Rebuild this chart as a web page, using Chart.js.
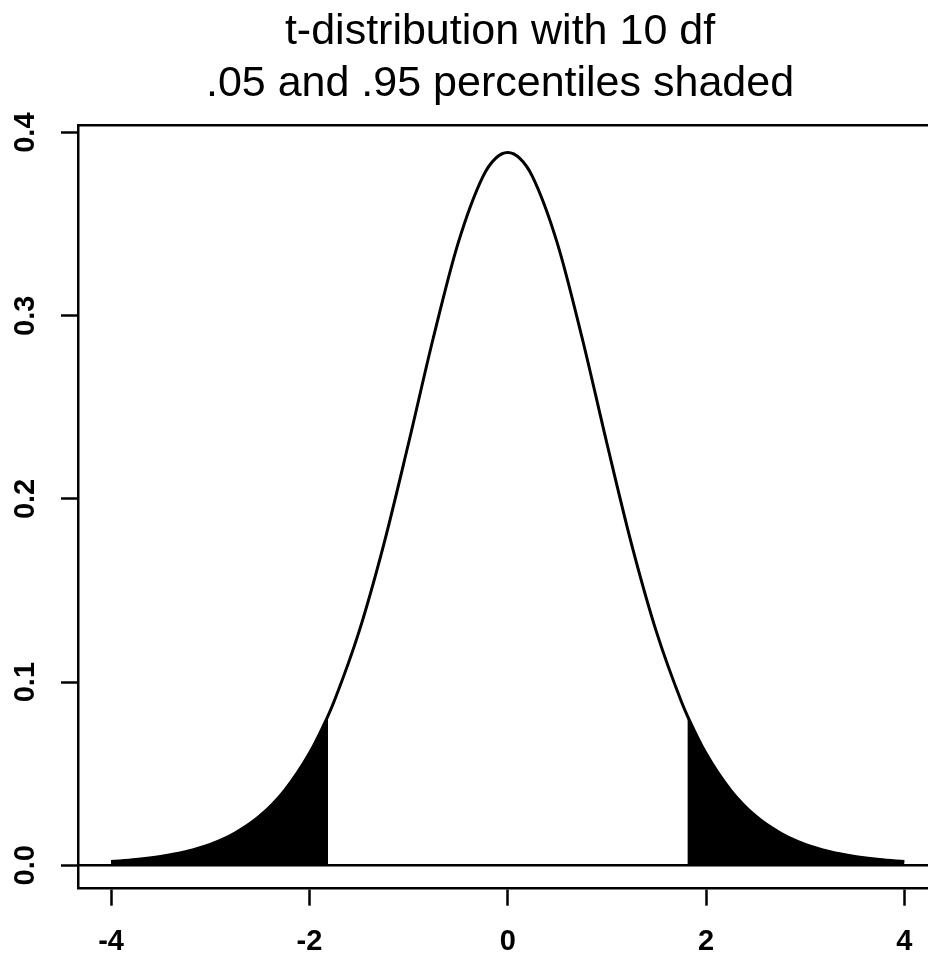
<!DOCTYPE html>
<html lang="en">
<head>
<meta charset="utf-8">
<title>t-distribution with 10 df</title>
<script src="https://cdn.jsdelivr.net/npm/chart.js@4.4.1/dist/chart.umd.min.js"></script>
<style>
  html, body { margin: 0; padding: 0; background: #fff; overflow: hidden; }
  #wrapper { width: 1000px; height: 956px; }
</style>
</head>
<body>
<div id="wrapper"><canvas id="tChart" width="1000" height="956"></canvas></div>
<script>
'use strict';

// #region ***  Data                                     ***********
const titleLines = ['t-distribution with 10 df', '.05 and .95 percentiles shaded'];
const tValues = [-4, -3.75, -3.5, -3.25, -3, -2.75, -2.5, -2.25, -2, -1.812, -1.75, -1.5, -1.25, -1, -0.75, -0.5, -0.25, -0.125,
  0, 0.125, 0.25, 0.5, 0.75, 1, 1.25, 1.5, 1.75, 1.812, 2, 2.25, 2.5, 2.75, 3, 3.25, 3.5, 3.75, 4];
const density = [0.002, 0.0031, 0.0048, 0.0074, 0.0114, 0.0176, 0.0269, 0.0409, 0.0611, 0.0816, 0.0895, 0.1274, 0.1751, 0.2304, 0.288, 0.3397, 0.376, 0.3858,
  0.3891, 0.3858, 0.376, 0.3397, 0.288, 0.2304, 0.1751, 0.1274, 0.0895, 0.0816, 0.0611, 0.0409, 0.0269, 0.0176, 0.0114, 0.0074, 0.0048, 0.0031, 0.002];
const criticalValue = 1.812;
const xTicks = [-4, -2, 0, 2, 4];
const yTicks = [0, 0.1, 0.2, 0.3, 0.4];
const xLimits = [-4.333, 4.333];
const yLimits = [-0.0128, 0.404];
// #endregion

// #region ***  Helpers                                  ***********
const fontFamily = "'Liberation Sans', Arial, Helvetica, sans-serif";

const toPoints = function (filter) {
  const points = [];
  tValues.forEach(function (t, i) {
    if (filter(t)) points.push({ x: t, y: density[i] });
  });
  return points;
};

const frameBorder = { display: true, color: '#000', width: 2.5 };
// #endregion

// #region ***  Chart                                    ***********
const showChart = function () {
  const curve = toPoints(() => true);
  const leftTail = toPoints((t) => t <= -criticalValue);
  const rightTail = toPoints((t) => t >= criticalValue);
  const zeroLine = [{ x: xLimits[0], y: 0 }, { x: xLimits[1], y: 0 }];

  const lineStyle = { pointRadius: 0, cubicInterpolationMode: 'monotone', borderColor: '#000' };

  const data = {
    datasets: [
      Object.assign({ label: 'density', data: curve, borderWidth: 3, fill: false }, lineStyle),
      Object.assign({ label: 'zero', data: zeroLine, borderWidth: 2.5, fill: false }, lineStyle),
      Object.assign({ label: 'lower tail', data: leftTail, borderWidth: 0, fill: 'origin', backgroundColor: '#000' }, lineStyle),
      Object.assign({ label: 'upper tail', data: rightTail, borderWidth: 0, fill: 'origin', backgroundColor: '#000' }, lineStyle)
    ]
  };

  const tickFont = { family: fontFamily, size: 29, weight: 'bold' };
  const tickGrid = { drawOnChartArea: false, drawTicks: true, tickLength: 17, tickWidth: 2.5, tickColor: '#000' };

  const config = {
    type: 'line',
    data: data,
    options: {
      responsive: false,
      devicePixelRatio: 1,
      animation: false,
      layout: { padding: 0 },
      plugins: {
        legend: { display: false },
        tooltip: { enabled: false },
        title: {
          display: true,
          text: titleLines,
          color: '#000',
          font: { family: fontFamily, size: 43, weight: 'normal', lineHeight: '52px' },
          padding: { top: 5.7, bottom: 15.6 }
        }
      },
      scales: {
        x: {
          type: 'linear',
          min: xLimits[0],
          max: xLimits[1],
          afterBuildTicks: (scale) => { scale.ticks = xTicks.map((v) => ({ value: v })); },
          afterFit: (scale) => { scale.height = 67.3; },
          border: frameBorder,
          grid: tickGrid,
          ticks: { color: '#000', font: tickFont, padding: 18.5, maxRotation: 0, autoSkip: false, callback: (v) => String(v) }
        },
        y: {
          type: 'linear',
          min: yLimits[0],
          max: yLimits[1],
          afterBuildTicks: (scale) => { scale.ticks = yTicks.map((v) => ({ value: v })); },
          afterFit: (scale) => { scale.width = 78; },
          border: frameBorder,
          grid: tickGrid,
          ticks: { color: '#000', font: tickFont, padding: 14.4, minRotation: 90, maxRotation: 90, crossAlign: 'center', autoSkip: false, callback: (v) => v.toFixed(1) }
        },
        // top and right sides of the box, no ticks
        xTop: {
          type: 'linear',
          position: 'top',
          min: xLimits[0],
          max: xLimits[1],
          afterFit: (scale) => { scale.height = 0; },
          border: frameBorder,
          grid: { display: false },
          ticks: { display: false }
        },
        yRight: {
          type: 'linear',
          position: 'right',
          min: yLimits[0],
          max: yLimits[1],
          afterFit: (scale) => { scale.width = 62.6; },
          border: frameBorder,
          grid: { display: false },
          ticks: { display: false }
        }
      }
    }
  };

  const ctx = document.getElementById('tChart').getContext('2d');
  new Chart(ctx, config);
};
// #endregion

// #region ***  Init / DOMContentLoaded                  ***********
const init = function () {
  showChart();
};

document.addEventListener('DOMContentLoaded', init);
// #endregion
</script>
</body>
</html>
